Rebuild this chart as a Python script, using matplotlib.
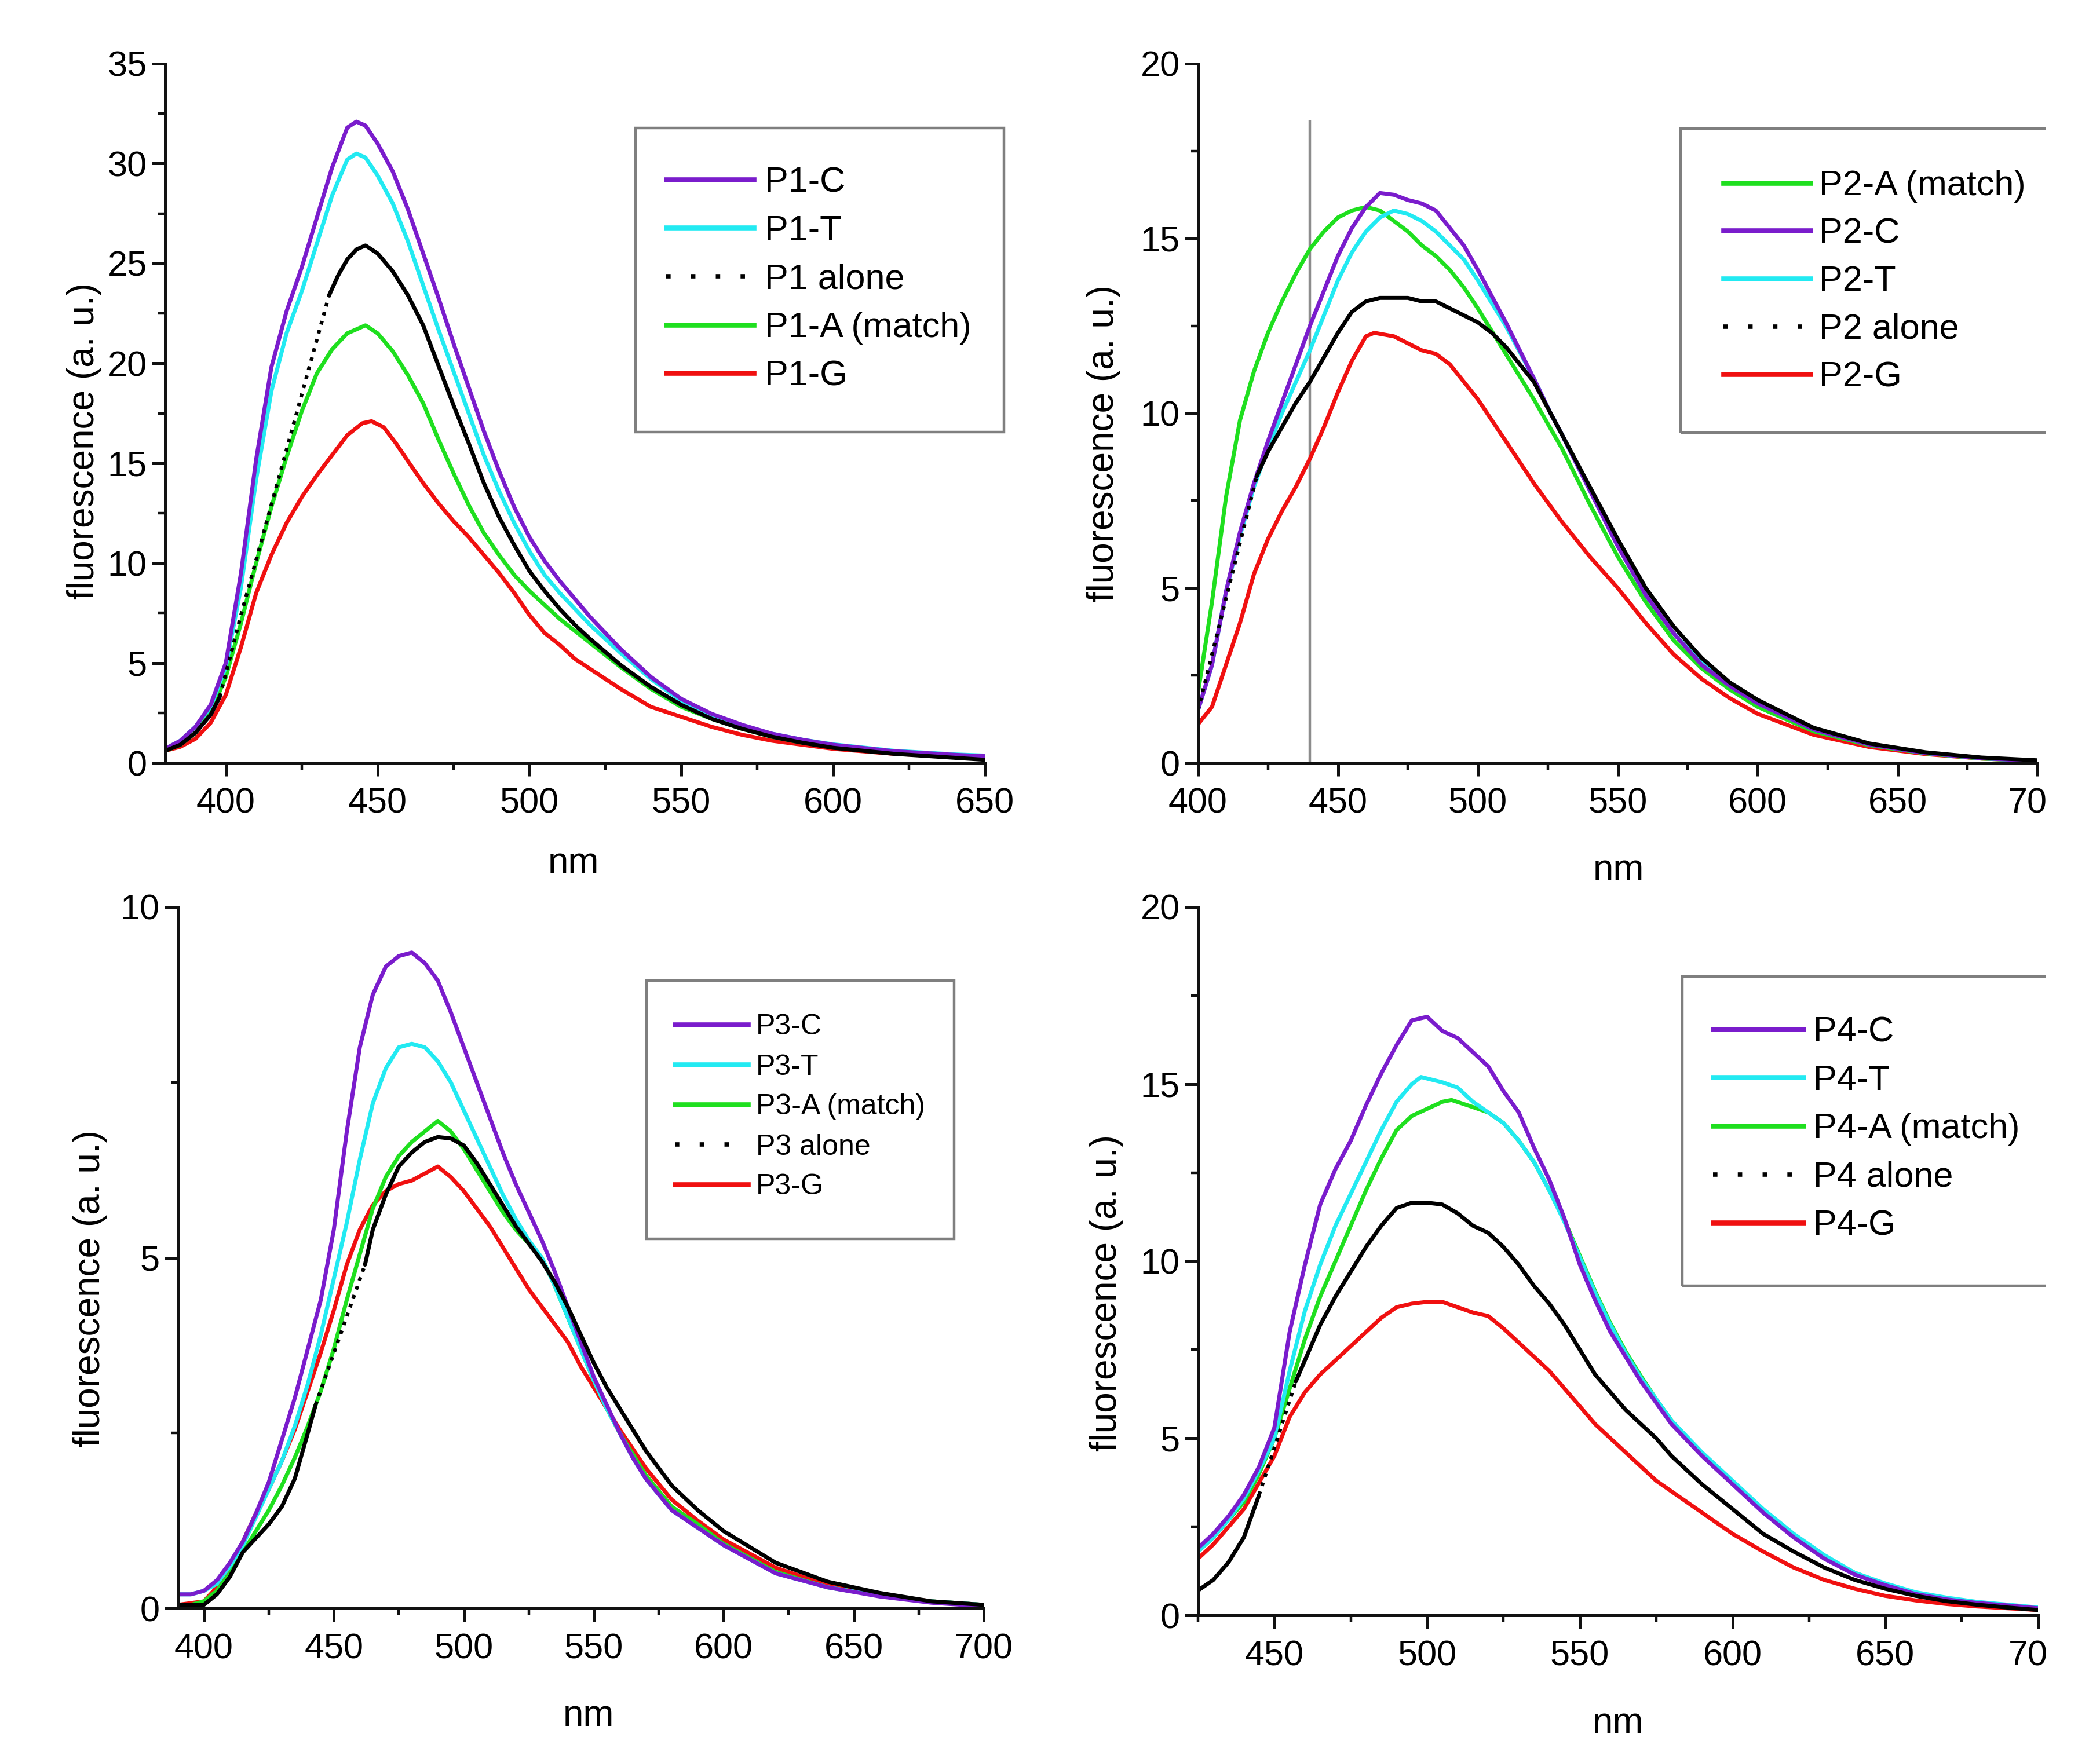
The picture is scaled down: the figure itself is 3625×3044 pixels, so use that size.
import matplotlib
matplotlib.use("Agg")
import matplotlib.pyplot as plt
from matplotlib.lines import Line2D
from matplotlib.patches import Rectangle
from matplotlib.ticker import MultipleLocator

plt.rcParams['font.family'] = ['Liberation Sans', 'DejaVu Sans']

# ---------------- data ----------------
# Panel 1
p1_c_nm = [380,385,390,395,400,405,410,415,420,425,430,435,440,443,446,450,455,460,465,470,475,480,485,490,495,500,505,510,515,520,530,540,550,560,570,580,590,600,620,640,650]
p1_c = [0.7,1.1,1.8,2.9,5.0,9.5,15.2,19.8,22.6,24.8,27.3,29.8,31.8,32.1,31.9,31.0,29.6,27.7,25.5,23.3,21.0,18.8,16.6,14.6,12.8,11.3,10.1,9.1,8.2,7.3,5.7,4.3,3.2,2.45,1.9,1.45,1.15,0.9,0.58,0.4,0.33]
p1_t_nm = [380,385,390,395,400,405,410,415,420,425,430,435,440,443,446,450,455,460,465,470,475,480,485,490,495,500,505,510,515,520,530,540,550,560,570,580,590,600,620,640,650]
p1_t = [0.7,1.1,1.8,2.8,4.8,8.8,14.2,18.6,21.5,23.6,26.0,28.4,30.2,30.5,30.3,29.4,28.0,26.1,23.9,21.7,19.6,17.5,15.4,13.6,12.0,10.6,9.4,8.5,7.7,6.9,5.5,4.2,3.1,2.4,1.85,1.45,1.15,0.92,0.6,0.42,0.36]
p1_0_nm = [380,385,390,395,398,405,434,437,440,443,446,450,455,460,465,470,475,480,485,490,495,500,505,510,515,520,530,540,550,560,570,580,590,600,620,640,650]
p1_0 = [0.6,0.9,1.5,2.4,3.3,7.4,23.4,24.4,25.2,25.7,25.9,25.5,24.6,23.4,21.9,19.9,17.9,16.0,14.0,12.3,10.9,9.6,8.6,7.7,6.9,6.2,4.9,3.8,2.9,2.2,1.7,1.3,1.0,0.75,0.45,0.25,0.15]
p1_a_nm = [380,385,390,395,400,405,410,415,420,425,430,435,440,446,450,455,460,465,470,475,480,485,490,495,500,505,510,515,520,530,540,550,560,570,580,590,600,620,640,650]
p1_a = [0.6,0.9,1.5,2.5,4.3,7.0,10.0,12.8,15.3,17.6,19.5,20.7,21.5,21.9,21.5,20.6,19.4,18.0,16.2,14.5,12.9,11.5,10.4,9.4,8.6,7.9,7.2,6.6,6.0,4.8,3.7,2.8,2.2,1.7,1.3,1.0,0.8,0.5,0.3,0.2]
p1_g_nm = [380,385,390,395,400,405,410,415,420,425,430,435,440,445,448,452,456,460,465,470,475,480,485,490,495,500,505,510,515,520,530,540,550,560,570,580,590,600,620,640,650]
p1_g = [0.6,0.8,1.2,2.0,3.4,5.8,8.5,10.4,12.0,13.3,14.4,15.4,16.4,17.0,17.1,16.8,16.0,15.1,14.0,13.0,12.1,11.3,10.4,9.5,8.5,7.4,6.5,5.9,5.2,4.7,3.7,2.8,2.3,1.8,1.4,1.1,0.9,0.7,0.45,0.3,0.25]

# Panel 2
p2_a_nm = [400,405,410,415,420,425,430,435,440,445,450,455,460,465,470,475,480,485,490,495,500,510,520,530,540,550,560,570,580,590,600,620,640,660,680,700]
p2_a = [2.0,4.6,7.6,9.8,11.2,12.3,13.2,14.0,14.7,15.2,15.6,15.8,15.9,15.8,15.5,15.2,14.8,14.5,14.1,13.6,13.0,11.7,10.4,9.0,7.4,5.9,4.6,3.5,2.7,2.1,1.6,0.9,0.5,0.27,0.12,0.05]
p2_c_nm = [400,405,410,415,420,425,430,435,440,445,450,455,460,465,470,475,480,485,490,495,500,510,520,526,530,540,550,560,570,580,590,600,620,640,660,680,700]
p2_c = [1.5,2.8,4.9,6.6,8.0,9.2,10.3,11.4,12.5,13.5,14.5,15.3,15.9,16.3,16.25,16.1,16.0,15.8,15.3,14.8,14.1,12.6,11.0,10.0,9.4,7.8,6.2,4.8,3.7,2.8,2.2,1.7,0.95,0.52,0.28,0.13,0.05]
p2_t_nm = [400,405,410,415,420,425,430,435,440,445,450,455,460,465,470,475,480,485,490,495,500,510,520,526,530,540,550,560,570,580,590,600,620,640,660,680,700]
p2_t = [1.5,2.8,4.9,6.5,7.9,9.0,10.0,10.9,11.8,12.8,13.8,14.6,15.2,15.6,15.8,15.7,15.5,15.2,14.8,14.4,13.8,12.5,11.0,10.0,9.4,7.8,6.2,4.8,3.7,2.85,2.2,1.7,0.95,0.52,0.28,0.13,0.05]
p2_0_nm = [400,410,421,425,430,435,440,445,450,455,460,465,470,475,480,485,490,495,500,505,510,520,526,530,540,550,560,570,580,590,600,620,640,660,680,700]
p2_0 = [1.5,4.7,8.2,8.9,9.6,10.3,10.9,11.6,12.3,12.9,13.2,13.3,13.3,13.3,13.2,13.2,13.0,12.8,12.6,12.3,11.9,10.9,10.0,9.4,7.9,6.4,5.0,3.9,3.0,2.3,1.8,1.0,0.55,0.3,0.15,0.07]
p2_g_nm = [400,405,410,415,420,425,430,435,440,445,450,455,460,463,470,475,480,485,490,495,500,505,510,520,530,540,550,560,570,580,590,600,620,640,660,680,700]
p2_g = [1.1,1.6,2.8,4.0,5.4,6.4,7.2,7.9,8.7,9.6,10.6,11.5,12.2,12.3,12.2,12.0,11.8,11.7,11.4,10.9,10.4,9.8,9.2,8.0,6.9,5.9,5.0,4.0,3.1,2.4,1.85,1.4,0.8,0.45,0.25,0.12,0.05]
p2_marker_nm = 440
p2_marker_top = 18.4

# Panel 3
p3_c_nm = [390,395,400,405,410,415,420,425,430,435,440,445,450,455,460,465,470,475,480,485,490,495,500,505,510,515,520,525,530,535,540,545,550,555,560,565,570,580,590,600,620,640,660,680,700]
p3_c = [0.2,0.2,0.25,0.4,0.65,0.95,1.35,1.8,2.4,3.0,3.7,4.4,5.4,6.8,8.0,8.75,9.15,9.3,9.35,9.2,8.95,8.5,8.0,7.5,7.0,6.5,6.05,5.65,5.25,4.8,4.3,3.8,3.3,2.9,2.5,2.15,1.85,1.4,1.15,0.9,0.5,0.3,0.17,0.08,0.03]
p3_t_nm = [390,395,400,405,410,415,420,425,430,435,440,445,450,455,460,465,470,475,480,485,490,495,500,505,510,515,520,525,530,535,540,545,550,555,560,565,570,580,590,600,620,640,660,680,700]
p3_t = [0.2,0.2,0.25,0.35,0.6,0.9,1.3,1.7,2.1,2.6,3.2,3.9,4.7,5.5,6.4,7.2,7.7,8.0,8.05,8.0,7.8,7.5,7.1,6.7,6.3,5.9,5.55,5.25,5.0,4.6,4.15,3.7,3.25,2.85,2.5,2.15,1.85,1.4,1.15,0.9,0.5,0.3,0.18,0.1,0.05]
p3_a_nm = [390,395,400,405,410,415,420,425,430,435,440,445,450,455,460,465,470,475,480,485,490,495,500,505,510,515,520,525,530,535,540,545,550,555,560,570,580,590,600,620,640,660,680,700]
p3_a = [0.05,0.05,0.1,0.25,0.5,0.8,1.1,1.4,1.75,2.15,2.6,3.1,3.7,4.4,5.05,5.7,6.15,6.45,6.65,6.8,6.95,6.8,6.55,6.25,5.95,5.65,5.4,5.2,5.0,4.6,4.15,3.7,3.25,2.85,2.5,1.9,1.45,1.2,0.92,0.52,0.3,0.18,0.1,0.05]
p3_0_nm = [390,400,405,410,415,420,425,430,435,440,443,462,465,470,475,480,485,490,495,500,505,510,515,520,525,530,535,540,545,550,555,560,565,570,580,590,600,620,640,660,680,700]
p3_0 = [0.05,0.05,0.2,0.45,0.8,1.0,1.2,1.45,1.85,2.5,2.9,4.9,5.4,5.9,6.3,6.5,6.65,6.72,6.7,6.6,6.35,6.05,5.75,5.45,5.2,4.95,4.65,4.3,3.9,3.5,3.15,2.85,2.55,2.25,1.75,1.4,1.1,0.65,0.38,0.22,0.1,0.05]
p3_g_nm = [390,400,405,410,415,420,425,430,435,440,445,450,455,460,465,470,475,480,485,490,495,500,505,510,515,520,525,530,535,540,545,550,555,560,570,580,590,600,620,640,660,680,700]
p3_g = [0.05,0.1,0.3,0.6,0.95,1.35,1.7,2.1,2.55,3.1,3.65,4.25,4.9,5.4,5.75,5.95,6.05,6.1,6.2,6.3,6.15,5.95,5.7,5.45,5.15,4.85,4.55,4.3,4.05,3.8,3.45,3.15,2.85,2.55,2.0,1.55,1.25,0.98,0.58,0.33,0.2,0.1,0.05]

# Panel 4
p4_c_nm = [425,430,435,440,445,450,455,460,465,470,475,480,485,490,495,500,505,510,515,520,525,530,535,540,545,550,555,560,565,570,575,580,590,600,610,620,630,640,650,660,670,680,690,700]
p4_c = [1.9,2.3,2.8,3.4,4.2,5.3,8.0,9.9,11.6,12.6,13.4,14.4,15.3,16.1,16.8,16.9,16.5,16.3,15.9,15.5,14.8,14.2,13.2,12.3,11.2,9.9,8.9,8.0,7.3,6.6,6.0,5.4,4.5,3.7,2.9,2.2,1.6,1.15,0.85,0.6,0.45,0.35,0.28,0.2]
p4_t_nm = [425,430,435,440,445,450,455,460,465,470,475,480,485,490,495,498,505,510,515,520,525,530,535,540,545,550,555,560,565,570,575,580,590,600,610,620,630,640,650,660,670,680,690,700]
p4_t = [1.8,2.2,2.7,3.3,4.1,5.0,6.9,8.6,9.9,11.0,11.9,12.8,13.7,14.5,15.0,15.2,15.05,14.9,14.5,14.2,13.9,13.4,12.8,12.0,11.1,10.1,9.1,8.2,7.4,6.7,6.1,5.5,4.6,3.8,3.0,2.3,1.7,1.2,0.9,0.65,0.5,0.38,0.3,0.22]
p4_a_nm = [425,430,435,440,445,450,455,460,465,470,475,480,485,490,495,500,505,508,515,520,525,530,535,540,545,550,555,560,565,570,575,580,590,600,610,620,630,640,650,660,670,680,690,700]
p4_a = [1.8,2.2,2.7,3.2,4.0,5.0,6.4,7.8,9.0,10.0,11.0,12.0,12.9,13.7,14.1,14.3,14.5,14.55,14.35,14.2,13.9,13.4,12.8,12.0,11.15,10.15,9.15,8.25,7.45,6.75,6.1,5.5,4.55,3.75,2.95,2.25,1.65,1.2,0.88,0.63,0.48,0.36,0.28,0.2]
p4_0_nm = [425,430,435,440,445,457,460,465,470,475,480,485,490,495,500,505,510,515,520,525,530,535,540,545,550,555,560,565,570,575,580,590,600,610,620,630,640,650,660,670,680,690,700]
p4_0 = [0.7,1.0,1.5,2.2,3.4,6.6,7.2,8.2,9.0,9.7,10.4,11.0,11.5,11.65,11.65,11.6,11.35,11.0,10.8,10.4,9.9,9.3,8.8,8.2,7.5,6.8,6.3,5.8,5.4,5.0,4.5,3.7,3.0,2.3,1.8,1.35,1.0,0.75,0.55,0.4,0.3,0.22,0.15]
p4_g_nm = [425,430,440,450,455,460,465,470,475,480,485,490,495,500,505,510,515,520,525,530,535,540,545,550,555,560,565,570,575,580,590,600,610,620,630,640,650,660,670,680,690,700]
p4_g = [1.6,2.0,3.0,4.5,5.6,6.3,6.8,7.2,7.6,8.0,8.4,8.7,8.8,8.85,8.85,8.7,8.55,8.45,8.1,7.7,7.3,6.9,6.4,5.9,5.4,5.0,4.6,4.2,3.8,3.5,2.9,2.3,1.8,1.35,1.0,0.75,0.55,0.42,0.32,0.25,0.2,0.15]

# labels
p1_labels = ['P1-C', 'P1-T', 'P1 alone', 'P1-A (match)', 'P1-G']
p2_labels = ['P2-A (match)', 'P2-C', 'P2-T', 'P2 alone', 'P2-G']
p3_labels = ['P3-C', 'P3-T', 'P3-A (match)', 'P3 alone', 'P3-G']
p4_labels = ['P4-C', 'P4-T', 'P4-A (match)', 'P4 alone', 'P4-G']
x_label = 'nm'
y_label = 'fluorescence (a. u.)'

# ---------------- styling ----------------
W, H, DPI = 3625, 3044, 100
PURPLE, CYAN, GREEN, RED, BLACK = '#7a1ccc', '#22eaf2', '#1fdf1f', '#f01010', '#000000'
LW = 5.0
TICK_FS = 44
LABEL_FS = 46

fig = plt.figure(figsize=(W / DPI, H / DPI), dpi=DPI, facecolor='white')


def px_axes(x0, y0, x1, y1):
    return fig.add_axes([x0 / W, 1 - y1 / H, (x1 - x0) / W, (y1 - y0) / H])


def style_axes(ax, xlim, ylim, ymaj, ylab_xy, xlab_xy):
    ax.set_xlim(*xlim)
    ax.set_ylim(*ylim)
    ax.xaxis.set_major_locator(MultipleLocator(50))
    ax.xaxis.set_minor_locator(MultipleLocator(25))
    ax.yaxis.set_major_locator(MultipleLocator(ymaj))
    ax.yaxis.set_minor_locator(MultipleLocator(ymaj / 2))
    for s in ('top', 'right'):
        ax.spines[s].set_visible(False)
    for s in ('left', 'bottom'):
        ax.spines[s].set_linewidth(3.6)
        ax.spines[s].set_color('#111111')
    ax.tick_params(which='major', direction='out', length=16.5, width=3.6,
                   labelsize=TICK_FS, color='#111111')
    ax.tick_params(which='minor', direction='out', length=8.5, width=3.2, color='#111111')
    ax.tick_params(axis='x', which='major', pad=14)
    ax.tick_params(axis='y', which='major', pad=6)
    ax.set_xlabel(x_label, fontsize=LABEL_FS, va='center', ha='center')
    ax.set_ylabel(y_label, fontsize=LABEL_FS, va='center', ha='center')
    ax.xaxis.set_label_coords(*xlab_xy)
    ax.yaxis.set_label_coords(*ylab_xy)


def plot_alone(ax, nm, vals, dot_from, dot_to):
    i0 = nm.index(dot_from)
    i1 = nm.index(dot_to)
    ax.plot(nm[:i0 + 1], vals[:i0 + 1], color=BLACK, lw=LW, solid_capstyle='round')
    ax.plot(nm[i0:i1 + 1], vals[i0:i1 + 1], color=BLACK, lw=LW * 0.9, ls=(0, (1, 1.6)))
    ax.plot(nm[i1:], vals[i1:], color=BLACK, lw=LW, solid_capstyle='round')


def add_legend(ax, labels, colors, alone_idx, hx, y0, dy, fs, hl, gap, frame):
    fs_px = fs * DPI / 72.0
    handles = []
    for i, c in enumerate(colors):
        if i == alone_idx:
            handles.append(Line2D([], [], color=c, lw=5.5, ls=(0, (1, 4.6))))
        else:
            handles.append(Line2D([], [], color=c, lw=6.2))
    row_h = 0.94 * fs_px
    top = y0 - row_h / 2
    ax.legend(handles, labels, loc='upper left',
              bbox_to_anchor=(hx / W, 1 - top / H), bbox_transform=fig.transFigure,
              frameon=False, borderpad=0, borderaxespad=0, fontsize=fs,
              handlelength=hl / fs_px, handletextpad=gap / fs_px,
              labelspacing=(dy - row_h) / fs_px)
    fx0, fy0, fx1, fy1 = frame
    fig.add_artist(Rectangle((fx0 / W, 1 - fy1 / H), (fx1 - fx0) / W, (fy1 - fy0) / H,
                             transform=fig.transFigure, fill=False,
                             ec='#7f7f7f', lw=3.2, zorder=5))


# ---------------- panel 1 ----------------
ax1 = px_axes(285, 110, 1700, 1317)
ax1.plot(p1_g_nm, p1_g, color=RED, lw=LW)
ax1.plot(p1_a_nm, p1_a, color=GREEN, lw=LW)
ax1.plot(p1_t_nm, p1_t, color=CYAN, lw=LW)
ax1.plot(p1_c_nm, p1_c, color=PURPLE, lw=LW)
plot_alone(ax1, p1_0_nm, p1_0, 398, 434)
style_axes(ax1, (380, 650), (0, 35), 5, (-0.099, 0.46), (0.498, -0.144))
add_legend(ax1, p1_labels, [PURPLE, CYAN, BLACK, GREEN, RED], 2,
           1150, 316, 84, 44, 151, 19, (1097, 221, 1733, 746))

# ---------------- panel 2 ----------------
ax2 = px_axes(2068, 110, 3517, 1317)
ax2.plot(p2_g_nm, p2_g, color=RED, lw=LW)
ax2.plot(p2_a_nm, p2_a, color=GREEN, lw=LW)
ax2.plot(p2_t_nm, p2_t, color=CYAN, lw=LW)
ax2.plot(p2_c_nm, p2_c, color=PURPLE, lw=LW)
plot_alone(ax2, p2_0_nm, p2_0, 400, 421)
ax2.vlines(p2_marker_nm, 0, p2_marker_top, color='#8c8c8c', lw=3.2, zorder=1)
style_axes(ax2, (400, 700), (0, 20), 5, (-0.1125, 0.457), (0.501, -0.154))
add_legend(ax2, p2_labels, [GREEN, PURPLE, CYAN, BLACK, RED], 3,
           2975, 322, 83, 44, 150, 15, (2901, 222, 3640, 747))

# ---------------- panel 3 ----------------
ax3 = px_axes(307, 1566, 1698, 2777)
ax3.plot(p3_g_nm, p3_g, color=RED, lw=LW)
ax3.plot(p3_a_nm, p3_a, color=GREEN, lw=LW)
ax3.plot(p3_t_nm, p3_t, color=CYAN, lw=LW)
ax3.plot(p3_c_nm, p3_c, color=PURPLE, lw=LW)
plot_alone(ax3, p3_0_nm, p3_0, 443, 462)
style_axes(ax3, (390, 700), (0, 10), 5, (-0.109, 0.456), (0.51, -0.154))
add_legend(ax3, p3_labels, [PURPLE, CYAN, GREEN, BLACK, RED], 3,
           1165, 1774, 70, 36, 126, 14, (1116, 1693, 1647, 2139))

# ---------------- panel 4 ----------------
ax4 = px_axes(2068, 1566, 3518, 2789)
ax4.plot(p4_g_nm, p4_g, color=RED, lw=LW)
ax4.plot(p4_a_nm, p4_a, color=GREEN, lw=LW)
ax4.plot(p4_t_nm, p4_t, color=CYAN, lw=LW)
ax4.plot(p4_c_nm, p4_c, color=PURPLE, lw=LW)
plot_alone(ax4, p4_0_nm, p4_0, 445, 457)
style_axes(ax4, (425, 700), (0, 20), 5, (-0.109, 0.455), (0.5, -0.153))
add_legend(ax4, p4_labels, [PURPLE, CYAN, GREEN, BLACK, RED], 3,
           2957, 1783, 84, 44, 156, 17, (2904, 1686, 3640, 2220))

# the source picture is cut off at the right edge
fig.add_artist(Rectangle((3532 / W, 0), 1, 1, transform=fig.transFigure,
                         fc='white', ec='none', zorder=100))

fig.savefig('out.png', dpi=DPI, facecolor='white')
